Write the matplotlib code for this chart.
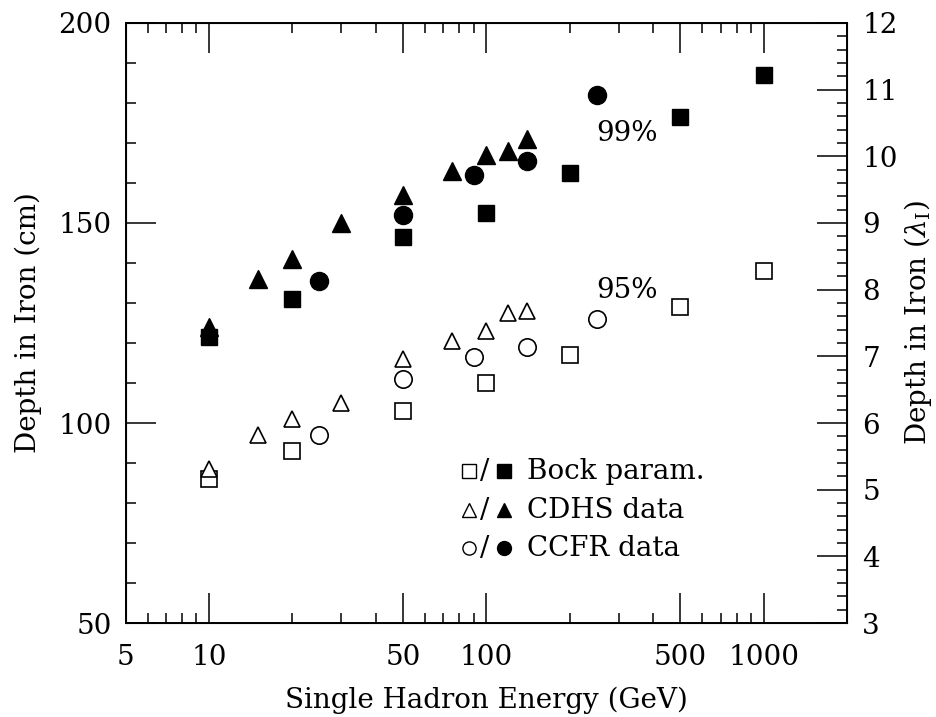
import matplotlib
matplotlib.use("Agg")
import matplotlib.pyplot as plt
from matplotlib.ticker import FixedLocator, MultipleLocator, NullFormatter
import numpy as np

plt.rcParams['font.family'] = ['DejaVu Serif', 'DejaVu Sans']
plt.rcParams['mathtext.fontset'] = 'dejavuserif'

# Bock parametrisation (squares)
bock_e = [10, 20, 50, 100, 200, 500, 1000]
bock_95 = [86, 93, 103, 110, 117, 129, 138]
bock_99 = [121.5, 131, 146.5, 152.5, 162.5, 176.5, 187]

# CDHS data (triangles)
cdhs_e = [10, 15, 20, 30, 50, 75, 100, 120, 140]
cdhs_95 = [88.5, 97, 101, 105, 116, 120.5, 123, 127.5, 128]
cdhs_99 = [124, 136, 141, 150, 157, 163, 167, 168, 171]

# CCFR data (circles)
ccfr_e = [25, 50, 90, 140, 250]
ccfr_95 = [97, 111, 116.5, 119, 126]
ccfr_99 = [135.5, 152, 162, 165.5, 182]

x_major = [5, 10, 50, 100, 500, 1000]
x_minor = [6, 7, 8, 9, 20, 30, 40, 60, 70, 80, 90, 200, 300, 400,
           600, 700, 800, 900, 2000]

fig = plt.figure(figsize=(9.37, 7.17), dpi=100)
ax = fig.add_axes([0.134, 0.131, 0.770, 0.837])

# open markers: 95% containment
ax.plot(bock_e, bock_95, 's', ms=11, mfc='white', mec='black', mew=1.2, ls='none')
ax.plot(cdhs_e, cdhs_95, '^', ms=12, mfc='white', mec='black', mew=1.2, ls='none')
ax.plot(ccfr_e, ccfr_95, 'o', ms=12.5, mfc='white', mec='black', mew=1.2, ls='none')
# filled markers: 99% containment
ax.plot(bock_e, bock_99, 's', ms=11.5, color='black', ls='none')
ax.plot(cdhs_e, cdhs_99, '^', ms=13, color='black', ls='none')
ax.plot(ccfr_e, ccfr_99, 'o', ms=13, color='black', ls='none')

ax.set_xscale('log')
ax.set_xlim(5, 2000)
ax.set_ylim(50, 200)
ax.xaxis.set_major_locator(FixedLocator(x_major))
ax.xaxis.set_minor_locator(FixedLocator(x_minor))
ax.set_xticklabels([str(v) for v in x_major])
ax.xaxis.set_minor_formatter(NullFormatter())
ax.yaxis.set_major_locator(MultipleLocator(50))
ax.yaxis.set_minor_locator(MultipleLocator(10))

fs = 20
ax.tick_params(which='major', direction='in', length=21.5, width=1.1,
               labelsize=fs, top=True)
ax.tick_params(which='minor', direction='in', length=7, width=1.1, top=True)
ax.tick_params(axis='x', which='major', pad=15)
ax.tick_params(axis='y', which='major', pad=10)
for s in ax.spines.values():
    s.set_linewidth(1.4)

ax.set_xlabel('Single Hadron Energy (GeV)', fontsize=fs, labelpad=11)
ax.set_ylabel('Depth in Iron (cm)', fontsize=fs, labelpad=12)

ax2 = ax.twinx()
ax2.set_ylim(3, 12)
ax2.yaxis.set_major_locator(MultipleLocator(1))
ax2.yaxis.set_minor_locator(MultipleLocator(0.2))
ax2.tick_params(which='major', direction='in', length=21.5, width=1.1,
                labelsize=fs, pad=11)
ax2.tick_params(which='minor', direction='in', length=7, width=1.1)
ax2.set_ylabel(r'Depth in Iron ($\lambda_{\mathrm{I}}$)', fontsize=fs, labelpad=3)

ax.text(250, 172.3, '99%', fontsize=fs, ha='left', va='center')
ax.text(250, 133.1, '95%', fontsize=fs, ha='left', va='center')

# legend
rows = [('s', 'Bock param.'), ('^', 'CDHS data'), ('o', 'CCFR data')]
ys = [0.2533, 0.188, 0.125]
for (m, lab), yy in zip(rows, ys):
    ax.plot([0.4765], [yy], m, ms=9.5, mfc='white', mec='black', mew=1.0,
            transform=ax.transAxes, clip_on=False)
    ax.text(0.498, yy, '/', fontsize=fs, ha='center', va='center',
            transform=ax.transAxes)
    ax.plot([0.5246], [yy], m, ms=10, color='black',
            transform=ax.transAxes, clip_on=False)
    ax.text(0.556, yy, lab, fontsize=fs, ha='left', va='center',
            transform=ax.transAxes)

fig.savefig('out.png', dpi=100)
